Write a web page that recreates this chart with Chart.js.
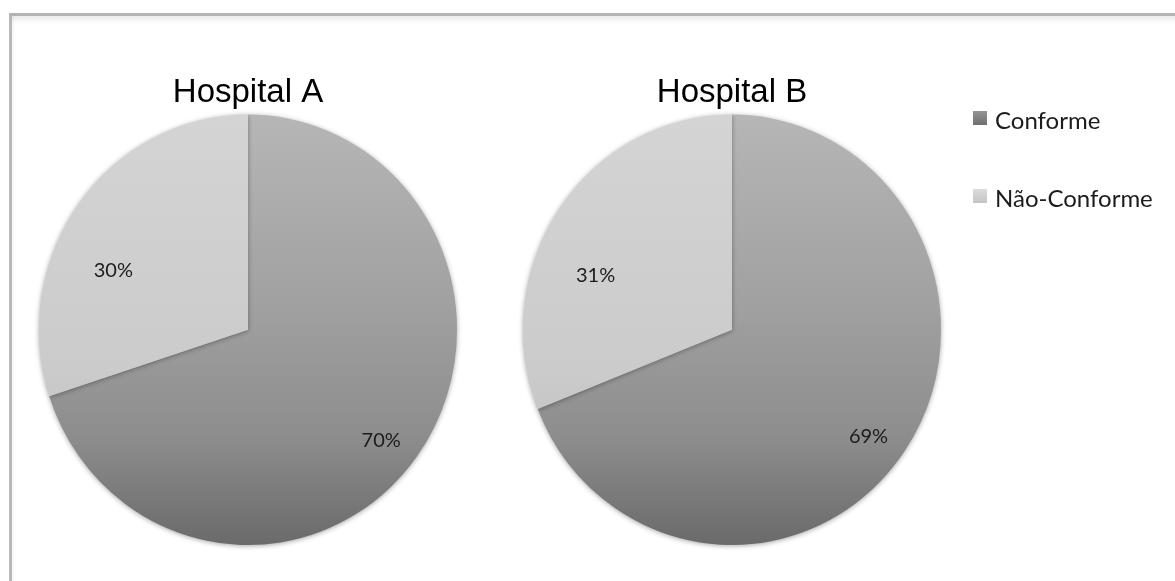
<!DOCTYPE html>
<html>
<head>
<meta charset="utf-8">
<script src="https://cdn.jsdelivr.net/npm/chart.js@4/dist/chart.umd.min.js"></script>
<style>
  html, body { margin: 0; padding: 0; background: #fff; }
  #page { position: relative; width: 1175px; height: 581px; overflow: hidden; }
  #frame {
    position: absolute; left: 9px; top: 13px; width: 1200px; height: 600px;
    border-top: 3px solid #b3b3b3; border-left: 3px solid #b8b8b8;
    box-shadow: inset 0 7px 7px -4px rgba(0,0,0,0.10), inset 4px 0 4px -3px rgba(0,0,0,0.06);
    background: #fff;
  }
  canvas.pie { position: absolute; top: 0; }
  #legend { position: absolute; left: 973px; top: 104px; font-family: Lato, sans-serif; font-size: 24px; color: #1c1c1c; }
  #legend .item { display: flex; align-items: center; height: 30px; margin-bottom: 48px; }
  #legend .box { width: 14px; height: 14px; margin-right: 8px; margin-top: -2px; }
</style>
</head>
<body>
<div id="page">
  <div id="frame"></div>
  <canvas id="pieA" class="pie" style="left:0px"></canvas>
  <canvas id="pieB" class="pie" style="left:484px"></canvas>
  <div id="legend"></div>
</div>
<script>
const categories = ["Conforme", "Não-Conforme"];
const hospitalTitles = ["Hospital A", "Hospital B"];
const hospitalA = [70, 30];
const hospitalB = [69, 31];

// vertical shading of each slice, light at the top and darker below
const sliceShades = [
  [[0, "#b6b6b6"], [0.45, "#a0a0a0"], [0.75, "#8d8d8d"], [1, "#6a6a6a"]],
  [[0, "#d4d4d4"], [0.6, "#cbcbcb"], [1, "#b6b6b6"]]
];
const legendShades = [["#959595", "#6f6f6f"], ["#dcdcdc", "#c4c4c4"]];
const stretchY = 1.03;

function shade(ctx) {
  const chart = ctx.chart;
  const area = chart.chartArea;
  if (!area) return "#999";
  const g = chart.ctx.createLinearGradient(0, area.top, 0, area.bottom);
  sliceShades[ctx.dataIndex].forEach(s => g.addColorStop(s[0], s[1]));
  return g;
}

// stretch the pie slightly in height and give it a soft edge shadow
const pieLook = {
  id: "pieLook",
  beforeDatasetsDraw(chart) {
    const a = chart.chartArea;
    const cx = (a.left + a.right) / 2, cy = (a.top + a.bottom) / 2;
    const c = chart.ctx;
    c.save();
    c.translate(cx, cy);
    c.scale(1, stretchY);
    c.translate(-cx, -cy);
    c.shadowColor = "rgba(0,0,0,0.35)";
    c.shadowBlur = 5;
    c.shadowOffsetY = 1;
  },
  afterDatasetsDraw(chart) {
    chart.ctx.restore();
  }
};

// percentage labels inside each slice
const pieLabels = {
  id: "pieLabels",
  afterDraw(chart, args, opts) {
    const c = chart.ctx;
    const meta = chart.getDatasetMeta(0);
    const data = chart.data.datasets[0].data;
    c.save();
    c.font = "20px Lato, sans-serif";
    c.fillStyle = "#1c1c1c";
    c.textAlign = "center";
    c.textBaseline = "middle";
    meta.data.forEach((arc, i) => {
      const p = opts.place[i];
      const mid = (arc.startAngle + arc.endAngle) / 2 + p.shift * Math.PI / 180;
      const r = arc.outerRadius * p.r;
      const x = arc.x + Math.cos(mid) * r;
      const y = arc.y + Math.sin(mid) * r * stretchY;
      c.fillText(data[i] + "%", x, y);
    });
    c.restore();
  }
};

function makePie(id, title, values) {
  const el = document.getElementById(id);
  el.width = 496;
  el.height = 581;
  return new Chart(el, {
    type: "pie",
    data: {
      labels: categories,
      datasets: [{
        data: values,
        backgroundColor: shade,
        borderWidth: 0,
        hoverOffset: 0
      }]
    },
    options: {
      responsive: false,
      animation: false,
      events: [],
      layout: { padding: { left: 39, right: 39, top: 0, bottom: 42 } },
      plugins: {
        legend: { display: false },
        tooltip: { enabled: false },
        title: {
          display: true,
          text: title,
          color: "#000",
          font: { family: "'Liberation Sans', Arial, sans-serif", size: 33, weight: "normal" },
          padding: { top: 73, bottom: 8 }
        },
        pieLabels: { place: [{ r: 0.82, shift: 3 }, { r: 0.7, shift: -13 }] }
      }
    },
    plugins: [pieLook, pieLabels]
  });
}

makePie("pieA", hospitalTitles[0], hospitalA);
makePie("pieB", hospitalTitles[1], hospitalB);

// legend shared by both pies
const legend = document.getElementById("legend");
categories.forEach((name, i) => {
  const item = document.createElement("div");
  item.className = "item";
  const box = document.createElement("span");
  box.className = "box";
  box.style.background = "linear-gradient(" + legendShades[i][0] + ", " + legendShades[i][1] + ")";
  const txt = document.createElement("span");
  txt.textContent = name;
  item.appendChild(box);
  item.appendChild(txt);
  legend.appendChild(item);
});
</script>
</body>
</html>
